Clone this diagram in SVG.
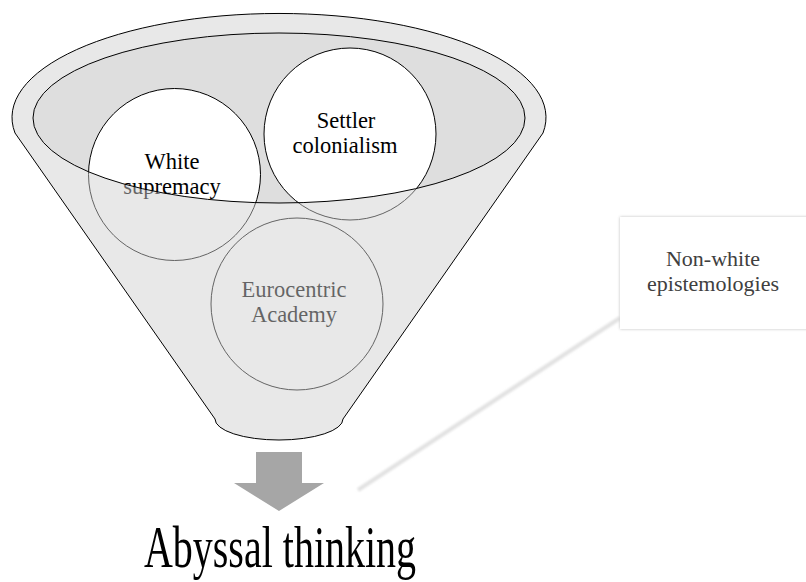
<svg xmlns="http://www.w3.org/2000/svg" width="806" height="582" viewBox="0 0 806 582">
<defs>
<style>
.lbl{font-family:"Liberation Serif","Times New Roman",serif;font-size:22.5px;text-anchor:middle;fill:#000}
.box{font-family:"Liberation Serif","Times New Roman",serif;font-size:22px;text-anchor:middle;fill:#404040}
.big{font-family:"Liberation Serif","Times New Roman",serif;font-size:40px;text-anchor:middle;fill:#000}
.circ{fill:#fff;stroke:#000;stroke-width:1}
</style>
<filter id="soft" x="-10%" y="-10%" width="120%" height="120%">
<feGaussianBlur in="SourceAlpha" stdDeviation="1.5" result="b"/>
<feFlood flood-color="#bdbdbd"/>
<feComposite in2="b" operator="in" result="s"/>
<feMerge><feMergeNode in="s"/><feMergeNode in="SourceGraphic"/></feMerge>
</filter>
<filter id="blurline" x="-10%" y="-10%" width="120%" height="120%">
<feGaussianBlur stdDeviation="0.9"/>
</filter>
</defs>
<rect width="806" height="582" fill="#fff"/>
<g id="funnel">
<path id="funnel-base" d="M15,133 A267,104 0 1 1 543,133 L343,419 A64,21 0 0 1 215,419 Z" fill="#fff"/>
<ellipse id="rim-fill" cx="279" cy="118" rx="246" ry="85" fill="#dedede"/>
</g>
<g id="node-white-supremacy">
<circle class="circ" cx="174.5" cy="174.5" r="86"/>
<text class="lbl" x="172" y="169">White</text>
<text class="lbl" x="172" y="194">supremacy</text>
</g>
<g id="node-settler-colonialism">
<circle class="circ" cx="350" cy="134" r="86"/>
<text class="lbl" x="346" y="128">Settler</text>
<text class="lbl" x="345" y="153">colonialism</text>
</g>
<g id="node-eurocentric-academy">
<circle class="circ" cx="297" cy="304" r="86"/>
<text class="lbl" x="294" y="297">Eurocentric</text>
<text class="lbl" x="294" y="322">Academy</text>
</g>
<g id="funnel-overlay">
<path d="M15,133 A267,104 0 1 1 543,133 L343,419 A64,21 0 0 1 215,419 Z M33,118 A246,85 0 1 0 525,118 A246,85 0 1 0 33,118 Z" fill="#cfcfcf" fill-opacity="0.482" fill-rule="evenodd"/>
<ellipse cx="279" cy="118" rx="246" ry="85" fill="none" stroke="#000" stroke-width="1"/>
<path d="M15,133 A267,104 0 1 1 543,133 L343,419 A64,21 0 0 1 215,419 Z" fill="none" stroke="#000" stroke-width="1"/>
</g>
<g id="connectors">
<polygon id="arrow" points="256,452 302,452 302,483 324,483 279,511 234,483 256,483" fill="#a6a6a6"/>
<line x1="358" y1="490" x2="620" y2="318" stroke="#e2e2e2" stroke-width="4" filter="url(#blurline)"/>
</g>
<g id="node-non-white">
<rect x="620" y="217" width="190" height="112" fill="#fff" filter="url(#soft)"/>
<text class="box" x="713" y="266">Non-white</text>
<text class="box" x="713" y="291">epistemologies</text>
</g>
<g id="node-abyssal">
<text class="big" transform="translate(280,567) scale(1,1.5)" x="0" y="0">Abyssal thinking</text>
</g>
</svg>
